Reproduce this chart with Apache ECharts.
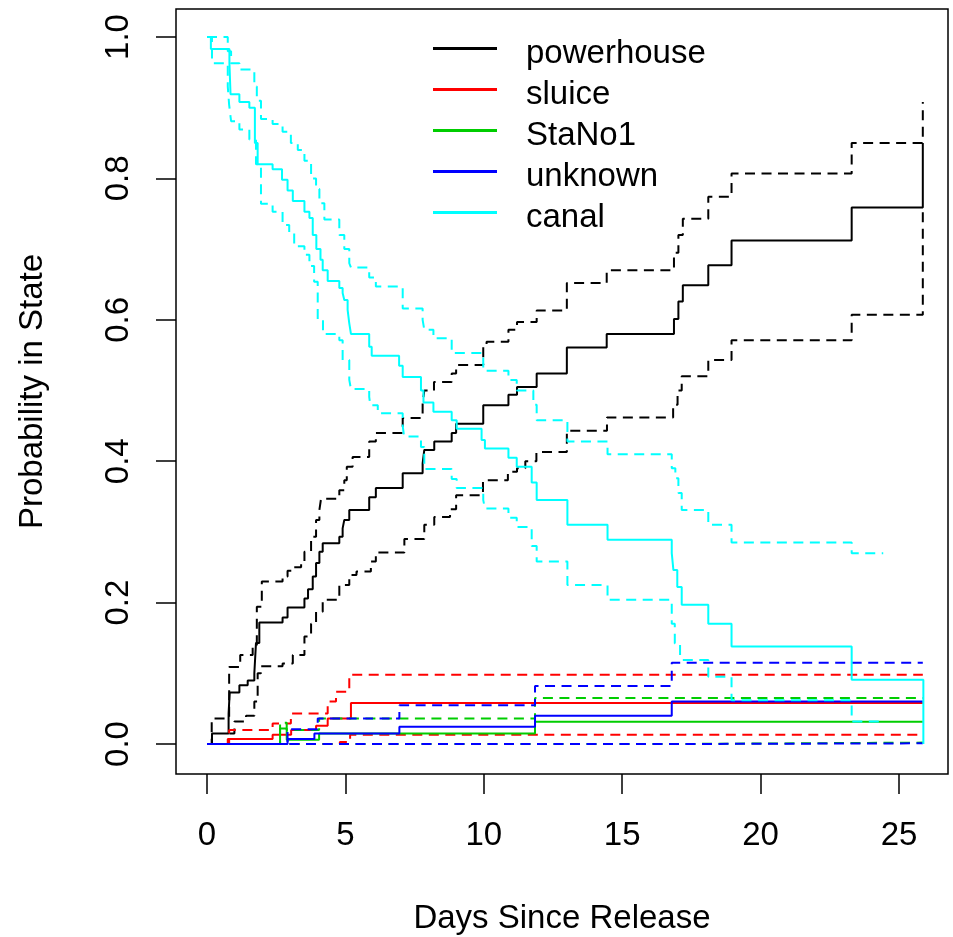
<!DOCTYPE html>
<html>
<head>
<meta charset="utf-8">
<script src="https://cdn.jsdelivr.net/npm/echarts@6/dist/echarts.min.js"></script>
<style>
  html, body { margin: 0; padding: 0; background: #fff; }
  #chart { width: 953px; height: 937px; }
</style>
</head>
<body>
<div id="chart"></div>
<script>
// Multi-state occupation probabilities: [day, probability] step points.
const states = ['powerhouse', 'sluice', 'StaNo1', 'unknown', 'canal'];
const stateColors = ['#000000', '#FF0000', '#00CD00', '#0000FF', '#00FFFF'];
const xTicks = [0, 5, 10, 15, 20, 25];
const yTicks = [0, 0.2, 0.4, 0.6, 0.8, 1.0];

const powerhouseEst = [[0,0],[0.18,0.015],[0.78,0.043],[0.82,0.073],[1.17,0.083],[1.47,0.09],[1.71,0.1],[1.77,0.143],[1.89,0.172],[2.73,0.179],[2.91,0.193],[3.52,0.206],[3.65,0.219],[3.82,0.237],[3.94,0.256],[4.06,0.272],[4.18,0.284],[4.78,0.293],[4.9,0.305],[4.96,0.317],[5.14,0.331],[5.86,0.349],[6.1,0.362],[7.07,0.383],[7.79,0.397],[7.85,0.416],[8.21,0.428],[8.84,0.44],[9.0,0.453],[9.98,0.479],[10.89,0.494],[11.2,0.505],[11.91,0.524],[13.0,0.561],[14.44,0.58],[16.87,0.601],[17.03,0.626],[17.19,0.649],[18.11,0.677],[18.95,0.712],[23.29,0.759],[25.86,0.85]];
const powerhouseHi = [[0,0],[0.17,0.036],[0.8,0.109],[1.2,0.126],[1.65,0.14],[1.8,0.194],[1.98,0.23],[2.73,0.237],[2.91,0.245],[3.1,0.25],[3.4,0.255],[3.52,0.272],[3.76,0.293],[3.94,0.317],[4.06,0.331],[4.12,0.347],[4.78,0.359],[4.96,0.373],[5.05,0.392],[5.26,0.406],[5.86,0.428],[6.1,0.44],[7.07,0.461],[7.79,0.482],[7.85,0.5],[8.2,0.512],[8.84,0.524],[9.0,0.536],[9.98,0.564],[10.1,0.569],[10.89,0.586],[11.2,0.597],[11.91,0.613],[13.0,0.652],[14.44,0.67],[16.87,0.695],[17.03,0.72],[17.19,0.743],[18.11,0.774],[18.95,0.807],[23.29,0.85],[25.86,0.908]];
const powerhouseLo = [[0,0],[0.78,0.015],[0.99,0.032],[1.41,0.04],[1.71,0.06],[1.83,0.1],[1.95,0.11],[2.73,0.114],[3.1,0.126],[3.52,0.152],[3.76,0.17],[3.94,0.187],[4.18,0.204],[4.78,0.225],[5.14,0.239],[5.4,0.244],[5.92,0.258],[6.1,0.271],[7.13,0.29],[7.85,0.31],[8.21,0.321],[8.78,0.332],[9.0,0.352],[9.97,0.373],[10.87,0.385],[11.2,0.39],[11.5,0.4],[11.9,0.413],[13.0,0.443],[14.45,0.462],[16.84,0.48],[17.0,0.5],[17.15,0.52],[18.11,0.543],[18.95,0.571],[23.29,0.607],[25.86,0.759]];

const sluiceEst = [[0,0],[0.75,0.007],[2.37,0.013],[3.04,0.02],[3.94,0.026],[4.36,0.036],[5.2,0.058],[25.86,0.058]];
const sluiceHi = [[0,0],[0.8,0.02],[2.37,0.029],[3.03,0.043],[4.36,0.06],[4.66,0.074],[5.14,0.098],[25.86,0.098]];
const sluiceLo = [[0,0],[4.8,0.003],[5.17,0.013],[25.86,0.013]];

const stano1Est = [[0,0],[2.64,0.022],[2.88,0.006],[4.05,0.015],[11.85,0.0315],[25.86,0.0315]];
const stano1Hi = [[0,0],[2.64,0.03],[2.88,0.02],[4.05,0.036],[11.85,0.065],[25.86,0.065]];
const stano1Lo = [[0,0],[16.85,0.002],[25.86,0.002]];

const unknownEst = [[0,0],[2.91,0.007],[3.88,0.015],[6.95,0.0245],[11.85,0.04],[16.79,0.06],[25.86,0.06]];
const unknownHi = [[0,0],[2.91,0.021],[4.0,0.036],[6.95,0.055],[11.85,0.082],[16.79,0.115],[25.86,0.115]];
const unknownLo = [[0,0],[16.85,0.001],[25.86,0.001]];

const canalEst = [[0,1],[0.14,0.983],[0.81,0.963],[0.85,0.919],[1.17,0.908],[1.53,0.9],[1.73,0.85],[1.83,0.82],[2.37,0.813],[2.71,0.798],[2.91,0.783],[3.1,0.768],[3.52,0.753],[3.7,0.744],[3.82,0.72],[3.95,0.7],[4.1,0.685],[4.18,0.67],[4.36,0.655],[4.78,0.645],[4.9,0.638],[4.96,0.628],[5.08,0.614],[5.14,0.595],[5.2,0.58],[5.86,0.562],[5.95,0.549],[6.94,0.535],[7.07,0.519],[7.73,0.5],[7.82,0.483],[8.18,0.47],[8.84,0.458],[9.02,0.446],[9.92,0.43],[10.04,0.418],[10.89,0.405],[11.19,0.392],[11.73,0.37],[11.91,0.345],[13.02,0.31],[14.47,0.289],[16.79,0.27],[16.85,0.246],[16.99,0.222],[17.15,0.197],[18.11,0.17],[18.95,0.138],[23.29,0.091],[25.88,0]];
const canalHi = [[0,1],[0.75,0.98],[0.87,0.963],[1.17,0.954],[1.71,0.93],[1.8,0.91],[1.95,0.884],[2.37,0.877],[2.73,0.866],[3.03,0.85],[3.28,0.84],[3.52,0.825],[3.76,0.8],[3.94,0.785],[4.06,0.765],[4.24,0.742],[4.78,0.72],[4.96,0.7],[5.14,0.68],[5.2,0.674],[5.86,0.66],[6.1,0.647],[7.07,0.616],[7.79,0.6],[7.85,0.586],[8.18,0.574],[8.84,0.553],[9.98,0.528],[10.89,0.515],[11.19,0.5],[11.79,0.48],[11.91,0.458],[13.02,0.428],[14.47,0.41],[16.79,0.39],[16.92,0.376],[17.03,0.355],[17.15,0.331],[18.11,0.31],[18.95,0.285],[23.29,0.27],[24.43,0.27]];
const canalLo = [[0,1],[0.18,0.963],[0.75,0.93],[0.8,0.904],[0.87,0.881],[1.17,0.869],[1.53,0.855],[1.77,0.82],[1.95,0.764],[2.37,0.753],[2.73,0.734],[2.97,0.723],[3.15,0.704],[3.52,0.692],[3.7,0.676],[3.87,0.654],[4.0,0.6],[4.19,0.58],[4.78,0.571],[4.9,0.543],[5.14,0.515],[5.2,0.502],[5.86,0.491],[5.9,0.479],[6.17,0.468],[7.07,0.45],[7.12,0.435],[7.73,0.42],[7.85,0.389],[8.84,0.375],[9.02,0.362],[9.98,0.345],[10.04,0.333],[10.89,0.32],[11.19,0.307],[11.73,0.28],[11.91,0.258],[13.02,0.225],[14.47,0.204],[16.79,0.17],[16.9,0.142],[17.09,0.123],[17.15,0.119],[18.11,0.095],[18.95,0.062],[23.29,0.032],[24.43,0.032]];

const curves = {
  powerhouse: [powerhouseEst, powerhouseHi, powerhouseLo],
  sluice: [sluiceEst, sluiceHi, sluiceLo],
  StaNo1: [stano1Est, stano1Hi, stano1Lo],
  unknown: [unknownEst, unknownHi, unknownLo],
  canal: [canalEst, canalHi, canalLo]
};

const FONT = 'Liberation Sans, Arial, Helvetica, sans-serif';
const DASH = [10, 6.5];
// Legend key: a short bar at the top of the key box so the label sits slightly below it.
const LEGEND_KEY = 'path://M0,0H64V3H0Z M0,13H0.01V13.01H0Z';
const series = [];
states.forEach((name, i) => {
  const [est, hi, lo] = curves[name];
  const base = { type: 'line', step: 'end', showSymbol: false, symbol: 'none', silent: true, animation: false, color: stateColors[i] };
  series.push(Object.assign({}, base, { name: name, data: est, lineStyle: { width: 2, color: stateColors[i] } }));
  series.push(Object.assign({}, base, { name: name + ' upper', data: hi, lineStyle: { width: 2, color: stateColors[i], type: DASH } }));
  series.push(Object.assign({}, base, { name: name + ' lower', data: lo, lineStyle: { width: 2, color: stateColors[i], type: DASH } }));
});

const chart = echarts.init(document.getElementById('chart'), null, { renderer: 'canvas' });
chart.setOption({
  animation: false,
  backgroundColor: '#ffffff',
  textStyle: { fontFamily: FONT, color: '#000' },
  grid: {
    left: 176, top: 9, width: 772, height: 765,
    containLabel: false, outerBoundsMode: 'none',
    show: true, borderColor: '#000', borderWidth: 1.5, backgroundColor: 'transparent'
  },
  legend: {
    data: states,
    orient: 'vertical',
    left: 433, top: 37, padding: 0,
    icon: LEGEND_KEY,
    itemWidth: 64, itemHeight: 14, itemGap: 8,
    textStyle: { fontFamily: FONT, fontSize: 33, color: '#000', padding: [0, 0, 0, 24], lineHeight: 33 },
    selectedMode: false
  },
  xAxis: {
    type: 'value', min: -1.12, max: 26.77,
    name: 'Days Since Release', nameLocation: 'middle', nameGap: 128,
    nameTextStyle: { fontFamily: FONT, fontSize: 33, color: '#000' },
    axisLine: { show: false, onZero: false },
    axisTick: { show: true, length: 20, inside: false, customValues: xTicks, lineStyle: { color: '#000', width: 1.5 } },
    axisLabel: { customValues: xTicks, margin: 45, fontFamily: FONT, fontSize: 33, color: '#000', formatter: v => String(v) },
    splitLine: { show: false }
  },
  yAxis: {
    type: 'value', min: -0.0424, max: 1.0396,
    name: 'Probability in State', nameLocation: 'middle', nameGap: 127, nameRotate: 90,
    nameTextStyle: { fontFamily: FONT, fontSize: 33, color: '#000' },
    axisLine: { show: false, onZero: false },
    axisTick: { show: true, length: 20, inside: false, customValues: yTicks, lineStyle: { color: '#000', width: 1.5 } },
    axisLabel: { customValues: yTicks, rotate: 90, margin: 41, fontFamily: FONT, fontSize: 33, color: '#000', formatter: v => v.toFixed(1) },
    splitLine: { show: false }
  },
  series: series
});
</script>
</body>
</html>
